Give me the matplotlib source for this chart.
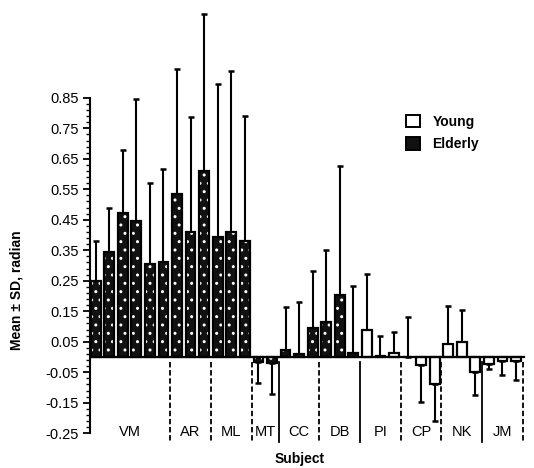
import numpy as np
import matplotlib
matplotlib.use('Agg')
import matplotlib.pyplot as plt
from matplotlib.patches import Patch

plt.rcParams['font.family'] = ['Liberation Sans', 'DejaVu Sans']
plt.rcParams['hatch.linewidth'] = 1.0

# Subjects and how many bars each one has
subjects = ['VM', 'AR', 'ML', 'MT', 'CC', 'DB', 'PI', 'CP', 'NK', 'JM']
bars_per_subject = [6, 3, 3, 2, 3, 3, 3, 3, 3, 3]
subject_group = ['Elderly', 'Elderly', 'Elderly', 'Elderly', 'Elderly', 'Elderly',
                 'Young', 'Young', 'Young', 'Young']

# Mean and SD of each bar (radian)
means = [0.25, 0.345, 0.473, 0.446, 0.305, 0.312,
         0.533, 0.409, 0.61,
         0.395, 0.411, 0.381,
         -0.016, -0.02,
         0.023, 0.01, 0.095,
         0.114, 0.203, 0.012,
         0.088, 0.004, 0.012,
         0.0, -0.027, -0.088,
         0.044, 0.05, -0.05,
         -0.022, -0.013, -0.014]
sds = [0.13, 0.145, 0.206, 0.399, 0.266, 0.304,
       0.411, 0.378, 0.515,
       0.499, 0.527, 0.408,
       0.068, 0.102,
       0.14, 0.17, 0.188,
       0.238, 0.422, 0.222,
       0.184, 0.066, 0.069,
       0.13, 0.119, 0.122,
       0.123, 0.105, 0.075,
       0.018, 0.045, 0.062]

# Divider style after each subject
divider_styles = ['--', '--', '--', '-', '--', '-', '--', '--', '-', '--']

ytick_vals = [0.85, 0.75, 0.65, 0.55, 0.45, 0.35, 0.25, 0.15, 0.05, -0.05, -0.15, -0.25]
ytick_labels = ['0.85', '0.75', '0.65', '0.55', '0.45', '0.35', '0.25', '0.15', '0.05',
                '-0.05', '-0.15', '-0.25']

fig = plt.figure(figsize=(5.34, 4.68), dpi=100)
ax = fig.add_axes([90 / 534, 18 / 468, 440 / 534, 440 / 468])

x = np.arange(len(means))
groups = []
for g, n in zip(subject_group, bars_per_subject):
    groups += [g] * n
means = np.array(means)
sds = np.array(sds)
eld = np.array([g == 'Elderly' for g in groups])
w = 0.72

# error bars, one sided in the direction of the mean
up = means >= 0
err = np.vstack([np.where(up, 0, sds), np.where(up, sds, 0)])
ax.errorbar(x, means, yerr=err, fmt='none', ecolor='black', elinewidth=1.5,
            capsize=2.5, capthick=1.8, zorder=1)

# Elderly: dark with white speckles
ax.bar(x[eld], means[eld], width=w, color='#111111', edgecolor='white',
       hatch='..', linewidth=0, zorder=2)
ax.bar(x[eld], means[eld], width=w, fill=False, edgecolor='black', linewidth=1.6, zorder=3)
# Young: open bars
ax.bar(x[~eld], means[~eld], width=w, color='white', edgecolor='black',
       linewidth=1.6, zorder=2)

# baseline
ax.plot([-0.42, 31.6], [0, 0], color='black', lw=1.6, zorder=4)

# subject dividers and labels
start = 0
for name, n, ls in zip(subjects, bars_per_subject, divider_styles):
    end = start + n
    ax.plot([end - 0.5, end - 0.5], [-0.015, -0.28], color='black', lw=1.3, ls=ls,
            dashes=(3, 1.5) if ls == '--' else (None, None))
    ax.text((start + end - 1) / 2, -0.245, name, ha='center', va='center', fontsize=10.5)
    start = end

ax.set_xlim(-0.42, -0.42 + 440 / 13.56)
ax.set_ylim(-0.305, 1.138)
for s in ['top', 'right', 'bottom']:
    ax.spines[s].set_visible(False)
ax.spines['left'].set_bounds(-0.25, 0.85)
ax.spines['left'].set_linewidth(1.5)
ax.set_xticks([])
ax.set_yticks(ytick_vals)
ax.set_yticklabels(ytick_labels, fontsize=10.5)
ax.set_yticks(np.arange(-0.25, 0.851, 0.02), minor=True)
ax.tick_params(axis='y', which='major', length=5, width=1.3, pad=3)
ax.tick_params(axis='y', which='minor', length=3, width=1.0)

ax.set_ylabel('Mean ± SD, radian', fontsize=10, fontweight='bold')
ax.yaxis.set_label_coords(-0.15, 0.364)
ax.text(0.477, -0.02, 'Subject', transform=ax.transAxes, ha='center', va='center',
        fontsize=10, fontweight='bold')

handles = [Patch(facecolor='white', edgecolor='black', linewidth=1.4, label='Young'),
           Patch(facecolor='#111111', edgecolor='black', linewidth=1.4, label='Elderly')]
ax.legend(handles=handles, loc='upper left', bbox_to_anchor=(0.69, 0.79), frameon=False,
          prop={'size': 10, 'weight': 'bold'}, handlelength=1.0, handleheight=1.0,
          handletextpad=0.9, labelspacing=0.6)

fig.savefig('out.png', dpi=100)
